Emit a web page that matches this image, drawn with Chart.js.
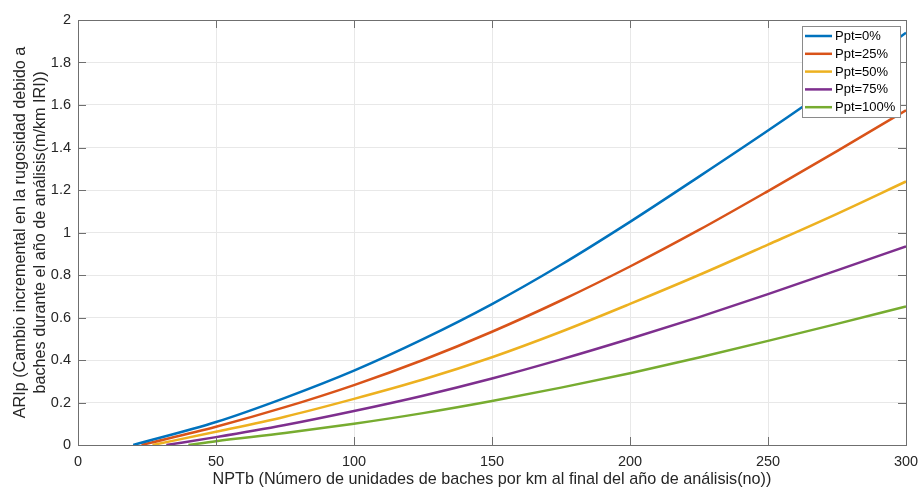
<!DOCTYPE html>
<html>
<head>
<meta charset="utf-8">
<script src="https://cdn.jsdelivr.net/npm/chart.js@4.4.1/dist/chart.umd.min.js"></script>
<style>
  body { margin: 0; background: #fff; }
  canvas { display: block; }
</style>
</head>
<body>
<canvas id="chart" width="918" height="489"></canvas>
<script>
// values
const seriesLabels = ['Ppt=0%', 'Ppt=25%', 'Ppt=50%', 'Ppt=75%', 'Ppt=100%'];
const seriesColors = ['#0072BD', '#D95319', '#EDB120', '#7E2F8E', '#77AC30'];
const startNPTb = [20, 23, 27, 32, 40];   // where each curve leaves zero
const nptb = [50, 75, 100, 125, 150, 175, 200, 225, 250, 275, 300];

const ariP0 = [0.108, 0.222, 0.350, 0.498, 0.663, 0.848, 1.050, 1.263, 1.480, 1.705, 1.940];
const ariP25 = [0.086, 0.178, 0.282, 0.400, 0.533, 0.680, 0.840, 1.012, 1.195, 1.383, 1.575];
const ariP50 = [0.062, 0.133, 0.217, 0.308, 0.413, 0.533, 0.664, 0.800, 0.943, 1.088, 1.240];
const ariP75 = [0.037, 0.094, 0.160, 0.232, 0.313, 0.403, 0.500, 0.602, 0.710, 0.822, 0.935];
const ariP100 = [0.018, 0.056, 0.100, 0.150, 0.207, 0.270, 0.338, 0.412, 0.490, 0.570, 0.652];

const xTicks = [0, 50, 100, 150, 200, 250, 300];
const yTicks = [0, 0.2, 0.4, 0.6, 0.8, 1, 1.2, 1.4, 1.6, 1.8, 2];

const allSeries = [ariP0, ariP25, ariP50, ariP75, ariP100];
const fontFamily = "'Liberation Sans', Arial, Helvetica, sans-serif";

function buildPoints(start, vals) {
    let pts = [{ x: start, y: 0 }];
    nptb.forEach((x, i) => {
        if (x > start) pts.push({ x: x, y: vals[i] });
    });
    return pts;
}

let datasets = allSeries.map((vals, i) => ({
    label: seriesLabels[i],
    data: buildPoints(startNPTb[i], vals),
    borderColor: seriesColors[i],
    backgroundColor: seriesColors[i],
    borderWidth: 2.5,
    pointRadius: 0,
    fill: false,
    cubicInterpolationMode: 'monotone'
}));

// box, inward tick marks and the floating legend, matlab style
const matlabAxes = {
    id: 'matlabAxes',
    afterDraw(chart) {
        const ctx = chart.ctx;
        const a = chart.chartArea;
        const xs = chart.scales.x;
        const ys = chart.scales.y;
        ctx.save();
        ctx.strokeStyle = '#6f6f6f';
        ctx.lineWidth = 1;
        ctx.beginPath();
        xTicks.forEach(v => {
            let px = Math.round(xs.getPixelForValue(v)) + 0.5;
            ctx.moveTo(px, a.bottom); ctx.lineTo(px, a.bottom - 8);
            ctx.moveTo(px, a.top); ctx.lineTo(px, a.top + 8);
        });
        yTicks.forEach(v => {
            let py = Math.round(ys.getPixelForValue(v)) + 0.5;
            ctx.moveTo(a.left, py); ctx.lineTo(a.left + 8, py);
            ctx.moveTo(a.right, py); ctx.lineTo(a.right - 8, py);
        });
        ctx.stroke();
        ctx.strokeRect(Math.round(a.left) + 0.5, Math.round(a.top) + 0.5,
            Math.round(a.right - a.left), Math.round(a.bottom - a.top));

        // legend
        const lx = 802, ly = 26, lw = 98, lh = 91;
        ctx.fillStyle = '#ffffff';
        ctx.fillRect(lx, ly, lw, lh);
        ctx.strokeStyle = '#8a8a8a';
        ctx.strokeRect(lx + 0.5, ly + 0.5, lw, lh);
        ctx.font = '13px ' + fontFamily;
        ctx.textBaseline = 'middle';
        ctx.textAlign = 'left';
        chart.data.datasets.forEach((ds, i) => {
            let cy = 36 + i * 17.8;
            ctx.strokeStyle = ds.borderColor;
            ctx.lineWidth = 2.5;
            ctx.beginPath();
            ctx.moveTo(805, cy); ctx.lineTo(832, cy);
            ctx.stroke();
            ctx.fillStyle = '#000000';
            ctx.fillText(ds.label, 835, cy + 0.5);
        });
        ctx.restore();
    }
};

let ctx = document.getElementById('chart');
let myChart = new Chart(ctx, {
    type: 'line',
    data: { datasets: datasets },
    options: {
        responsive: false,
        animation: false,
        layout: { padding: { top: 20, right: 12, left: 0, bottom: 0 } },
        plugins: {
            legend: { display: false },
            tooltip: { enabled: false }
        },
        scales: {
            x: {
                type: 'linear',
                min: 0,
                max: 300,
                afterBuildTicks: s => { s.ticks = xTicks.map(v => ({ value: v })); },
                afterFit: s => { s.height = 44; s.paddingLeft = 0; s.paddingRight = 0; },
                ticks: {
                    color: '#262626',
                    font: { size: 14.5, family: fontFamily },
                    padding: 8,
                    maxRotation: 0,
                    autoSkip: false
                },
                grid: { color: '#e8e8e8', drawTicks: false },
                border: { display: false },
                title: {
                    display: true,
                    text: 'NPTb (Número de unidades de baches por km al final del año de análisis(no))',
                    color: '#262626',
                    font: { size: 16.2, family: fontFamily, lineHeight: 1.2 },
                    padding: { top: 0, bottom: 0 }
                }
            },
            y: {
                type: 'linear',
                min: 0,
                max: 2,
                afterBuildTicks: s => { s.ticks = yTicks.map(v => ({ value: v })); },
                afterFit: s => { s.width = 78; s.paddingTop = 0; s.paddingBottom = 0; },
                ticks: {
                    color: '#262626',
                    font: { size: 14.5, family: fontFamily },
                    padding: 7,
                    callback: v => String(Number(v.toFixed(1)))
                },
                grid: { color: '#e8e8e8', drawTicks: false },
                border: { display: false },
                title: {
                    display: true,
                    text: ['ARIp (Cambio incremental en la rugosidad debido a',
                           'baches durante el año de análisis(m/km IRI))'],
                    color: '#262626',
                    font: { size: 16.2, family: fontFamily, lineHeight: 1.2 },
                    padding: { top: 11, bottom: 0 }
                }
            }
        }
    },
    plugins: [matlabAxes]
});
</script>
</body>
</html>
